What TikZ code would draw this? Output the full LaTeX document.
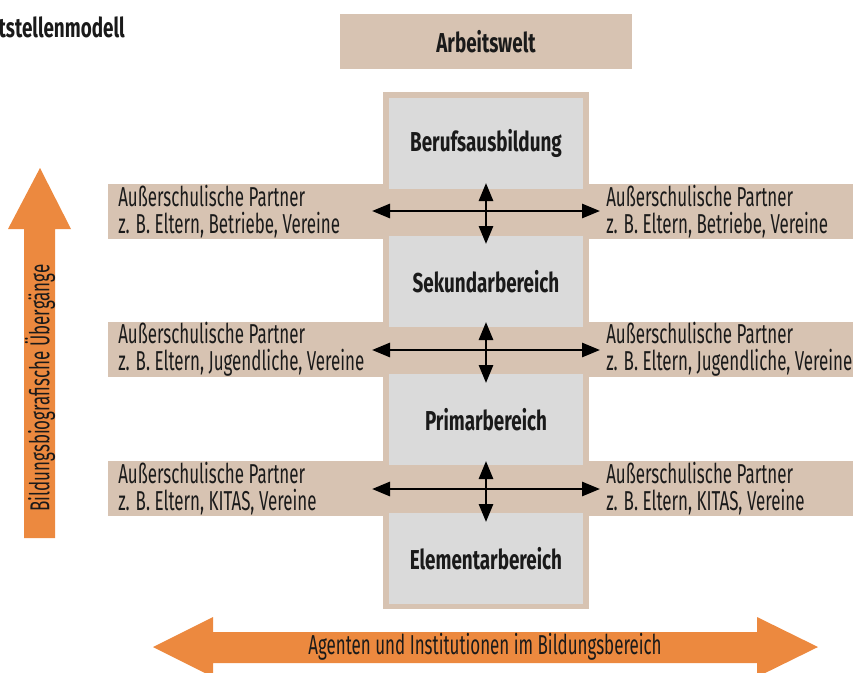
\documentclass[tikz,border=0pt]{standalone}
\usepackage{fontspec}
\setmainfont{Fira Sans}[FakeStretch=0.62]
\newfontfamily\labelfont{Fira Sans}[FakeStretch=0.69]
\usetikzlibrary{arrows.meta}
\definecolor{bandtan}{HTML}{D7C3B2}
\definecolor{panelgrey}{HTML}{DADADA}
\definecolor{accent}{HTML}{EC893F}
\definecolor{ink}{HTML}{1A1A1A}
\tikzset{
  tanbox/.style={fill=bandtan, draw=none, inner sep=0pt},
  greybox/.style={fill=panelgrey, draw=none, inner sep=0pt,
    minimum width=145.5pt, minimum height=68.25pt,
    font=\labelfont\fontsize{20.5}{22}\selectfont\bfseries, text=ink},
  partner/.style={inner sep=0pt, align=left, text=ink,
    font=\fontsize{20.5}{20.25}\selectfont},
  link/.style={line width=2.1pt, draw=black,
    {Triangle[length=13.5pt,width=10.5pt]}-{Triangle[length=13.5pt,width=10.5pt]}},
  flow/.style={fill=accent, draw=none},
  flowtext/.style={inner sep=0pt, text=ink, font=\fontsize{20.5}{22}\selectfont}
}
\begin{document}
\begin{tikzpicture}[x=0.75pt,y=-0.75pt]
\useasboundingbox (0,0) rectangle (853,672);

% heading (partly outside the page)
\node[anchor=east, inner sep=0pt, text=ink, font=\labelfont\fontsize{20.5}{22}\selectfont\bfseries]
  (heading) at (125,27) {tstellenmodell};

% world of work
\node[tanbox, minimum width=219pt, minimum height=41.25pt,
  font=\labelfont\fontsize{20.5}{22}\selectfont\bfseries, text=ink] (welt) at (486,41.5) {Arbeitswelt};

% tan frame of the school column
\node[tanbox, minimum width=154.5pt, minimum height=387.75pt] (frame) at (486,350.5) {};

% partner bands
\foreach \name/\y in {bandA/211.5, bandB/349.5, bandC/488.5}{
  \node[tanbox, minimum width=558.75pt, minimum height=41.25pt] (\name) at (480.5,\y) {};
}

% stages
\node[greybox] (beruf) at (486,143.5) {Berufsausbildung};
\node[greybox] (sek)   at (486,281.5) {Sekundarbereich};
\node[greybox] (prim)  at (486,419.5) {Primarbereich};
\node[greybox] (elem)  at (486,558.5) {Elementarbereich};

% partner texts
\node[partner, anchor=west] (pAl) at (118,211.5) {Außerschulische Partner\\z. B. Eltern, Betriebe, Vereine};
\node[partner, anchor=west] (pAr) at (606,211.5) {Außerschulische Partner\\z. B. Eltern, Betriebe, Vereine};
\node[partner, anchor=west] (pBl) at (118,349.5) {Außerschulische Partner\\z. B. Eltern, Jugendliche, Vereine};
\node[partner, anchor=west] (pBr) at (606,349.5) {Außerschulische Partner\\z. B. Eltern, Jugendliche, Vereine};
\node[partner, anchor=west] (pCl) at (118,488.5) {Außerschulische Partner\\z. B. Eltern, KITAS, Vereine};
\node[partner, anchor=west] (pCr) at (606,488.5) {Außerschulische Partner\\z. B. Eltern, KITAS, Vereine};

% exchange arrows
\foreach \k/\y in {A/211, B/350, C/489}{
  \coordinate (w\k) at (372,\y);
  \coordinate (e\k) at (600,\y);
  \coordinate (n\k) at (486,\y-28);
  \coordinate (s\k) at (486,\y+33);
  \draw[link] (w\k) -- (e\k);
  \draw[link] (n\k) -- (s\k);
}

% vertical transition arrow
\fill[flow] (40,168) -- (71,229) -- (55,229) -- (55,538) -- (24,538) -- (24,229) -- (8,229) -- cycle;
\node[flowtext, rotate=90] (uebergang) at (40,388) {Bildungsbiografische Übergänge};

% horizontal agents arrow
\fill[flow] (153,647) -- (213,617) -- (213,632) -- (757,632) -- (757,617) -- (818,647)
  -- (757,677) -- (757,663) -- (213,663) -- (213,677) -- cycle;
\node[flowtext] (agenten) at (485,647) {Agenten und Institutionen im Bildungsbereich};
\end{tikzpicture}
\end{document}
